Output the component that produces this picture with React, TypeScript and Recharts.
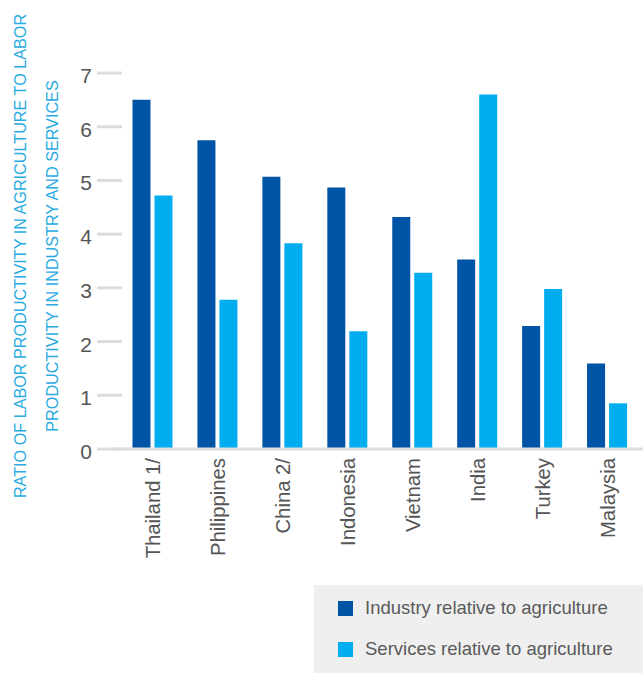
import { BarChart, Bar, XAxis, YAxis } from "recharts";

const countries = ["Thailand 1/", "Philippines", "China 2/", "Indonesia", "Vietnam", "India", "Turkey", "Malaysia"];
const industry = [6.5, 5.75, 5.07, 4.87, 4.32, 3.53, 2.29, 1.59];
const services = [4.72, 2.78, 3.83, 2.19, 3.28, 6.6, 2.98, 0.85];
const yTicks = [0, 1, 2, 3, 4, 5, 6, 7];

const DARK = "#0054a6";
const LIGHT = "#00aeef";
const FONT = "'Liberation Sans', Arial, sans-serif";

const data = countries.map((name, i) => ({
  name,
  industry: industry[i],
  services: services[i],
}));

const YTick = (props: any) => {
  const { x, y, payload } = props;
  return (
    <g>
      <line x1={x - 17} x2={x + 8} y1={y} y2={y} stroke="#dcdcdc" strokeWidth={3} />
      <text x={x - 22} y={y} dy={10} textAnchor="end" fill="#555" fontSize={21} fontFamily={FONT}>
        {payload.value}
      </text>
    </g>
  );
};

const XTick = (props: any) => {
  const { x, y, payload } = props;
  return (
    <text
      transform={`translate(${x},${y + 9}) rotate(-90)`}
      dy={7}
      textAnchor="end"
      fill="#555"
      fontSize={20.3}
      fontFamily={FONT}
    >
      {payload.value}
    </text>
  );
};

const YLabel = () => (
  <g fill="#29abe2" fontSize={16.2} fontFamily={FONT}>
    <text transform="translate(20,256) rotate(-90)" textAnchor="middle" dy={6}>
      RATIO OF LABOR PRODUCTIVITY IN AGRICULTURE TO LABOR
    </text>
    <text transform="translate(51.5,256) rotate(-90)" textAnchor="middle" dy={6}>
      PRODUCTIVITY IN INDUSTRY AND SERVICES
    </text>
  </g>
);

const legendItems = [
  { label: "Industry relative to agriculture", color: DARK },
  { label: "Services relative to agriculture", color: LIGHT },
];

export default function App() {
  return (
    <div style={{ position: "absolute", left: 0, top: 0, width: 643, height: 673, background: "#fff" }}>
      <BarChart
        width={643}
        height={673}
        data={data}
        margin={{ top: 73, right: 0, bottom: 194, left: 0 }}
        barSize={18}
        barGap={4}
      >
        <XAxis
          dataKey="name"
          axisLine={{ stroke: "#dcdcdc", strokeWidth: 3 }}
          tickLine={false}
          tickSize={0}
          tickMargin={0}
          height={30}
          interval={0}
          padding={{ left: 6.5, right: 3 }}
          tick={<XTick />}
        />
        <YAxis
          type="number"
          domain={[0, 7]}
          ticks={yTicks}
          width={114}
          axisLine={false}
          tickLine={false}
          tickSize={0}
          tickMargin={0}
          tick={<YTick />}
          label={{ content: () => <YLabel /> }}
        />
        <Bar dataKey="industry" fill={DARK} isAnimationActive={false} />
        <Bar dataKey="services" fill={LIGHT} isAnimationActive={false} />
      </BarChart>
      <div
        style={{
          position: "absolute",
          left: 314,
          top: 585,
          width: 329,
          height: 88,
          background: "#efefef",
          fontFamily: FONT,
          fontSize: 18.5,
          color: "#5a5a5a",
        }}
      >
        {legendItems.map((it, i) => (
          <div
            key={it.label}
            style={{ position: "absolute", left: 24, top: 15 + i * 41, height: 16, display: "flex", alignItems: "center" }}
          >
            <span style={{ display: "inline-block", width: 15, height: 15, background: it.color, marginRight: 12 }} />
            <span style={{ lineHeight: "16px", whiteSpace: "nowrap" }}>{it.label}</span>
          </div>
        ))}
      </div>
    </div>
  );
}
